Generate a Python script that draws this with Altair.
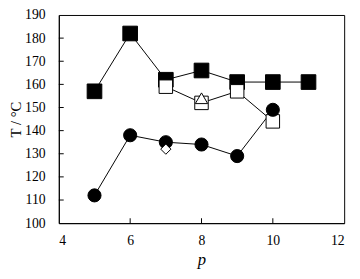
import altair as alt
import pandas as pd

# filled squares
fs_x = [5, 6, 7, 8, 9, 10, 11]
fs_y = [157, 182, 162, 166, 161, 161, 161]
# open squares
os_x = [7, 8, 9, 10]
os_y = [159, 152, 157, 144]
# open triangle
tr_x = [8]
tr_y = [154]
# filled circles
fc_x = [5, 6, 7, 8, 9, 10]
fc_y = [112, 138, 135, 134, 129, 149]
# open diamond
dm_x = [7]
dm_y = [132]

x_ticks = [4, 6, 8, 10, 12]
y_ticks = list(range(100, 191, 10))

W, H = 292, 213
FONT = "Liberation Serif"

def df(xs, ys):
    return pd.DataFrame({"p": xs, "T": ys})

xs = alt.Scale(domain=[4, 12], nice=False, zero=False)
ys = alt.Scale(domain=[100, 190], nice=False, zero=False)

X = alt.X("p:Q", scale=xs, axis=alt.Axis(values=x_ticks, title="p", titleFontStyle="italic",
          titleFont=FONT, titleFontSize=17, titleFontWeight="normal", titlePadding=4,
          labelFont=FONT, labelFontSize=14, labelPadding=11, tickSize=0, grid=False,
          domainColor="black", labelColor="black", titleColor="black"))
Y = alt.Y("T:Q", scale=ys, axis=alt.Axis(values=y_ticks, title="T / °C",
          titleFont=FONT, titleFontSize=15, titleFontWeight="normal", titlePadding=1,
          labelFont=FONT, labelFontSize=14, labelPadding=14, tickSize=0, grid=False,
          domainColor="black", labelColor="black", titleColor="black"))

def line(d):
    return alt.Chart(d).mark_line(color="black", strokeWidth=1).encode(x=X, y=Y)

def pts(d, shape, filled, size):
    return alt.Chart(d).mark_point(shape=shape, filled=True, size=size,
                                   fill="black" if filled else "white",
                                   stroke="black", strokeWidth=1, opacity=1).encode(x=X, y=Y)

xt = alt.Chart(pd.DataFrame({"p": x_ticks[1:-1]})).mark_rule(color="black").encode(
    x=X, y=alt.value(H), y2=alt.value(H - 5))
yt = alt.Chart(pd.DataFrame({"T": y_ticks[1:-1]})).mark_rule(color="black").encode(
    y=Y, x=alt.value(0), x2=alt.value(5))

d_fs, d_os, d_tr, d_fc, d_dm = df(fs_x, fs_y), df(os_x, os_y), df(tr_x, tr_y), df(fc_x, fc_y), df(dm_x, dm_y)

chart = alt.layer(
    line(d_fs), line(d_os), line(d_fc),
    xt, yt,
    pts(d_fs, "square", True, 225),
    pts(d_os, "square", False, 190),
    pts(d_tr, "triangle-up", False, 160),
    pts(d_fc, "circle", True, 180),
    pts(d_dm, "diamond", False, 110),
).properties(
    width=W, height=H,
    background="white",
    autosize=alt.AutoSizeParams(type="none"),
    padding={"left": 52, "top": 4, "right": 8, "bottom": 54},
).configure_view(stroke="black", strokeWidth=1)

chart.save("out.html", embed_options={"renderer": "svg", "actions": False})
